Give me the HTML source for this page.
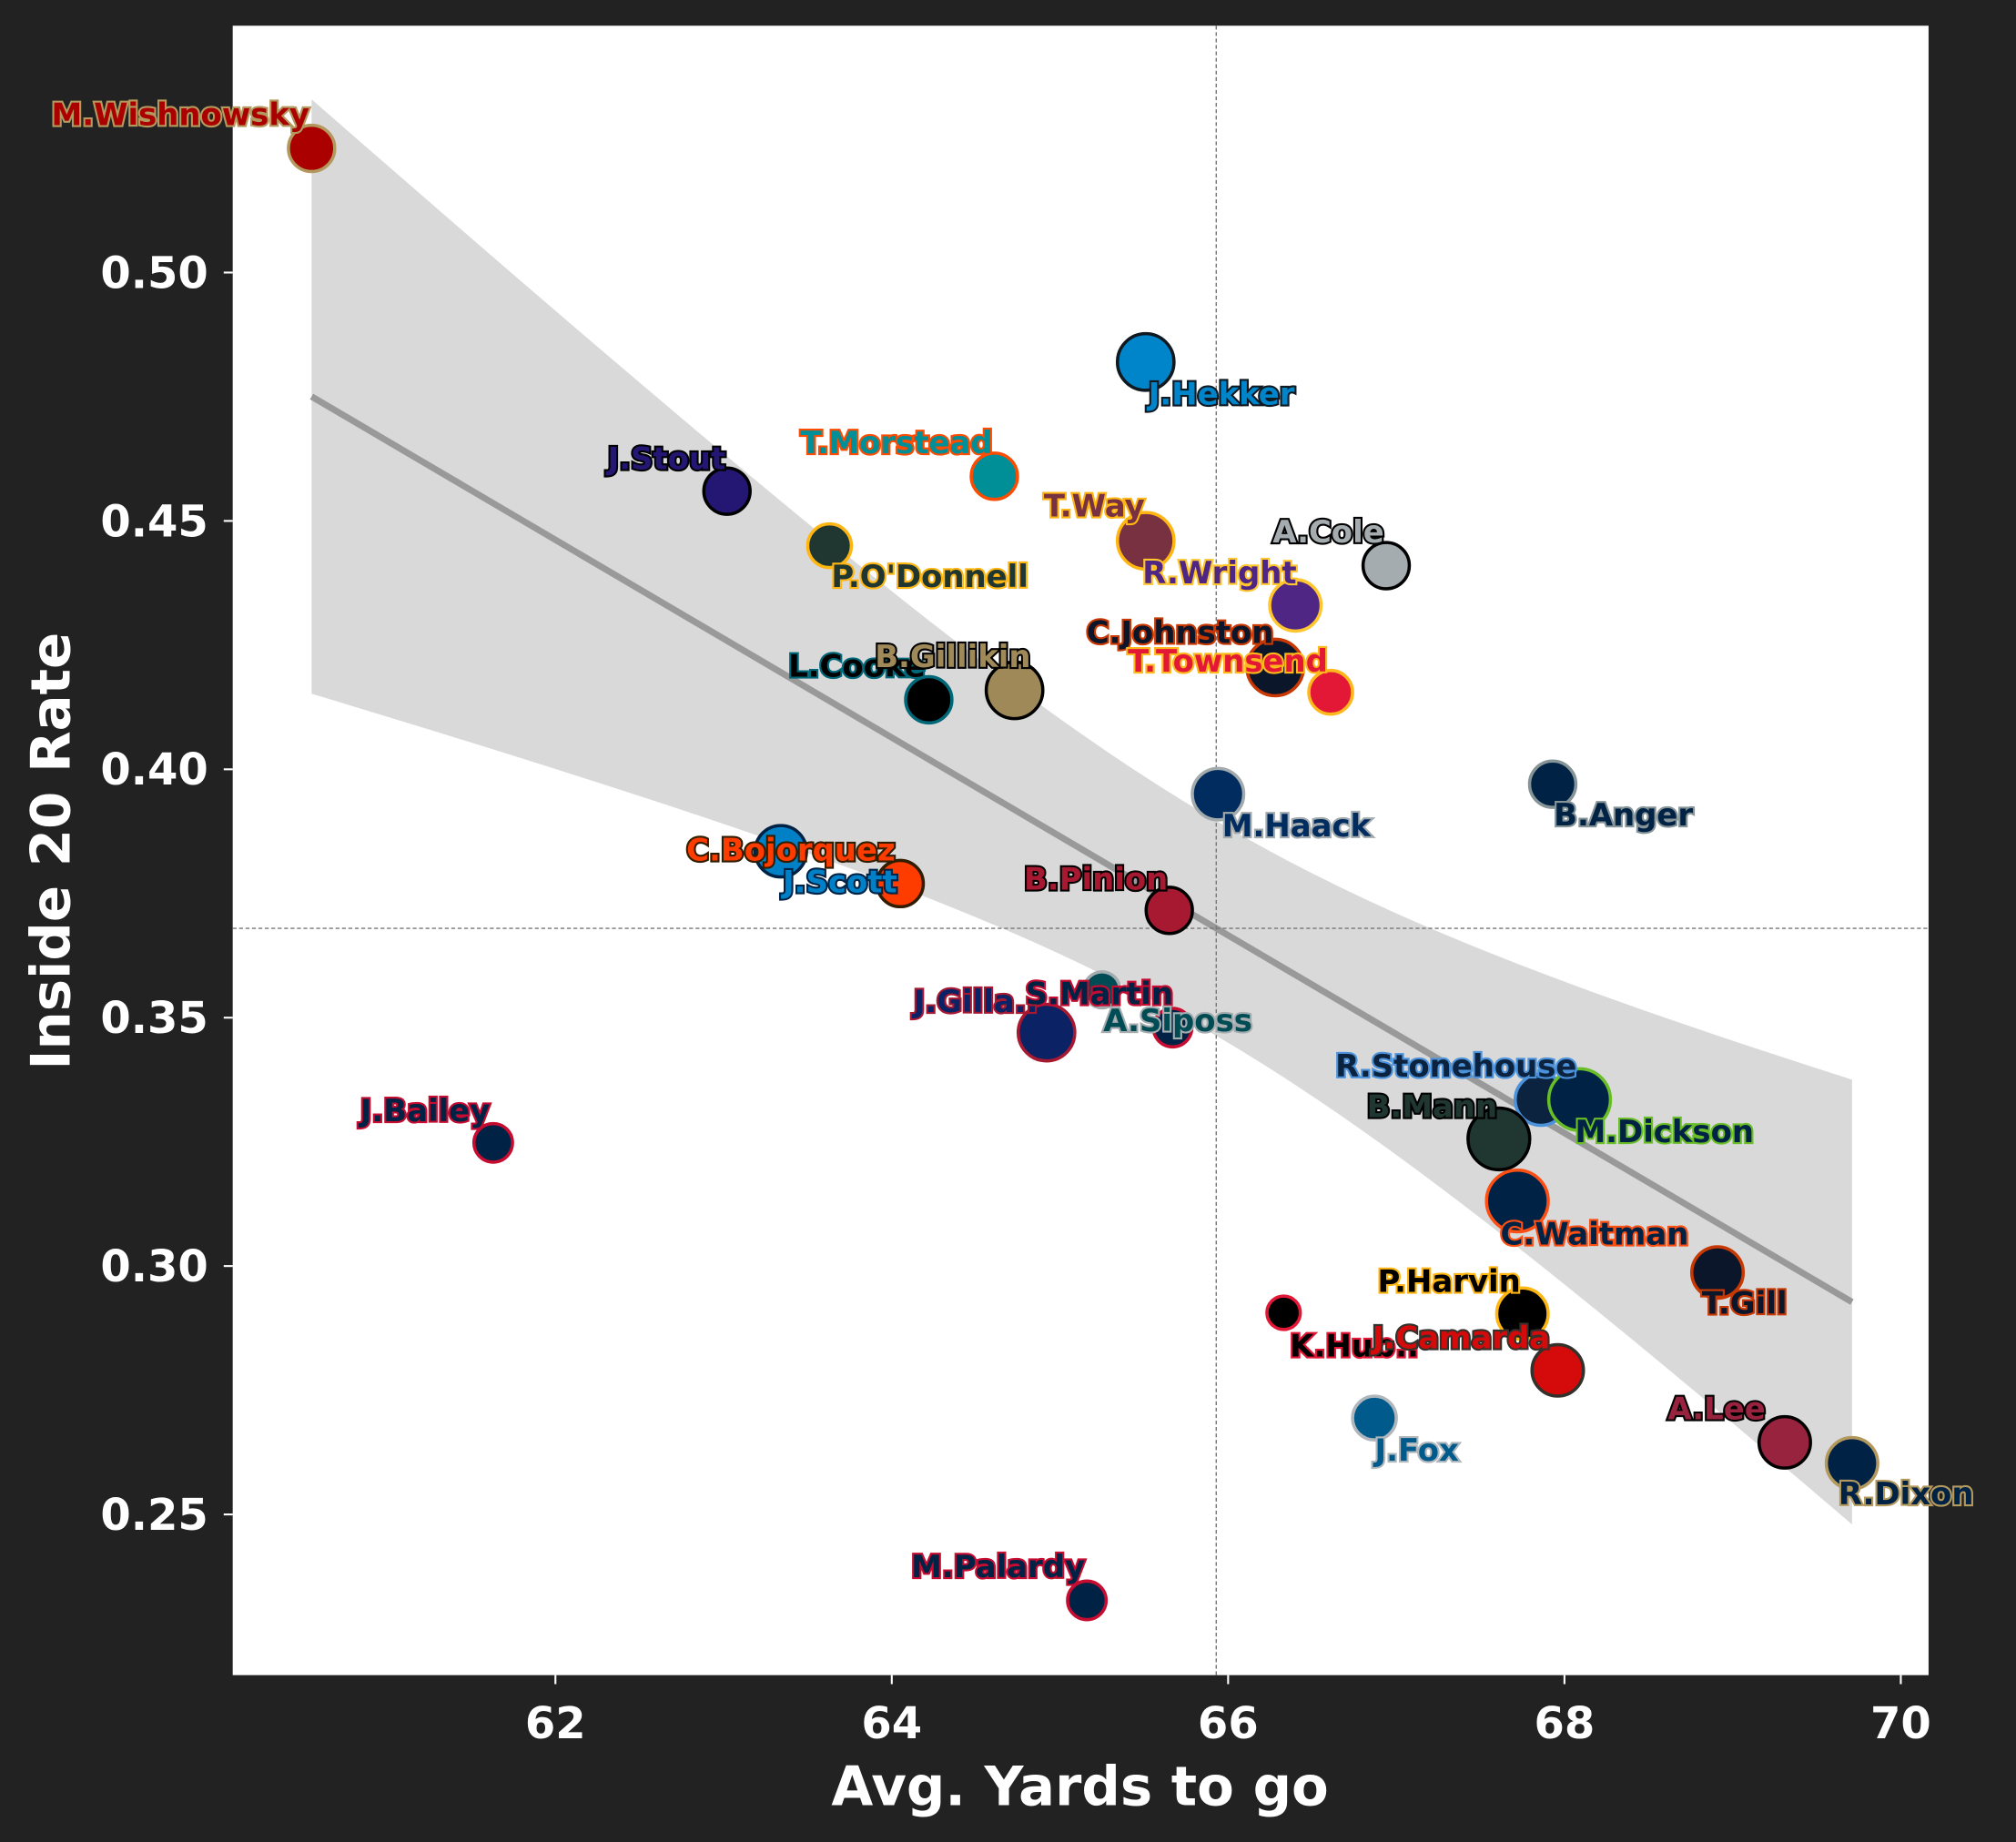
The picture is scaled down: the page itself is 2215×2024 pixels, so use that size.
<!DOCTYPE html>
<html><head><meta charset="utf-8">
<style>
html,body{margin:0;padding:0;background:#222222;}
svg{display:block;}
text{font-family:"DejaVu Sans","Liberation Sans",sans-serif;font-weight:bold;}
</style></head>
<body>
<svg id="chart" width="2215" height="2024" viewBox="0 0 1568 1432.8" preserveAspectRatio="none" xmlns="http://www.w3.org/2000/svg">
<rect x="0" y="0" width="1568" height="1433" fill="#222222"/>
<rect x="181" y="20" width="1319" height="1283" fill="#ffffff"/>
<g id="band"></g>
<g id="grid"></g>
<g id="axes"></g>
<g id="points"></g>
<g id="labels"></g>
<text x="840" y="1404" fill="#ffffff" font-size="42" text-anchor="middle">Avg. Yards to go</text>
<text x="54" y="662" fill="#ffffff" font-size="42" text-anchor="middle" transform="rotate(-90 54 662)">Inside 20 Rate</text>
</svg>
<script>
const names=["M.Wishnowsky","J.Stout","T.Morstead","P.O'Donnell","J.Hekker","T.Way","A.Cole","R.Wright","C.Johnston","T.Townsend","L.Cooke","B.Gillikin","M.Haack","B.Anger","J.Scott","C.Bojorquez","B.Pinion","S.Martin","A.Siposs","J.Gilla..","J.Bailey","R.Stonehouse","M.Dickson","B.Mann","C.Waitman","T.Gill","P.Harvin","K.Hub..","J.Camarda","J.Fox","A.Lee","R.Dixon","M.Palardy"];
const yardsToGo=[60.55,63.02,64.61,63.63,65.51,65.51,66.94,66.40,66.28,66.61,64.22,64.73,65.94,67.93,63.34,64.05,65.65,65.67,65.25,64.92,61.63,67.86,68.09,67.61,67.72,68.91,67.75,66.33,67.96,66.87,69.31,69.71,65.16];
const inside20Rate=[0.525,0.456,0.459,0.445,0.482,0.446,0.441,0.433,0.4205,0.4155,0.414,0.4159,0.395,0.397,0.3835,0.377,0.3716,0.348,0.3556,0.347,0.3248,0.3335,0.3335,0.3256,0.3131,0.2987,0.2904,0.2906,0.279,0.2694,0.2645,0.2603,0.2327];
const xTicks=[62,64,66,68,70];
const yTicks=[0.25,0.30,0.35,0.40,0.45,0.50];
// styling (not data)
const fills=["#aa0000","#241773","#008e97","#203731","#0085ca","#773141","#a5acaf","#4f2683","#0b162a","#e31837","#000000","#9f8958","#002c5f","#002244","#0080c6","#ff3c00","#a71930","#002244","#004c54","#0b2265","#002244","#0c2340","#002244","#203731","#002244","#0b162a","#000000","#000000","#d50a0a","#005a8b","#97233f","#002244","#002244"];
const edges=["#b3995d","#000000","#fc4c02","#ffb612","#101820","#ffb612","#000000","#ffc62f","#c83803","#ffb81c","#006778","#000000","#a2aaad","#869397","#002244","#311d00","#000000","#c60c30","#a5acaf","#a71930","#c60c30","#4b92db","#69be28","#000000","#fb4f14","#c83803","#ffb612","#e31837","#34302b","#b0b7bc","#000000","#b3995d","#c60c30"];
const radii=[18,18,18,17,22,22,18,20,22,17,18,22,20,18,20,18,18,15,14,22,15,20,24,24,24,20,20,13,20,17,20,20,15];
const ldx=[-102,-47,-76,78,59,-40,-45,-59,-74,-80,-56,-48,61,55,46,-85,-57,-57,59,-55,-53,-66,66,-52,60,21,-57,55,-75,33,-53,42,-69];
const ldy=[-26,-25,-26,24,25,-27,-26,-25,-27,-24,-26,-26,25,24,24,-26,-24,-26,24,-24,-25,-26,25,-25,26,24,-25,26,-25,25,-26,24,-26];

const NS="http://www.w3.org/2000/svg";
const X=v=>432+(v-62)*130.8;
const Y=v=>212-(v-0.50)*3864;
function mk(tag,attrs,parent){const e=document.createElementNS(NS,tag);for(const k in attrs)e.setAttribute(k,attrs[k]);document.getElementById(parent).appendChild(e);return e;}

// regression
const n=yardsToGo.length;
const xm=yardsToGo.reduce((a,b)=>a+b)/n, ym=inside20Rate.reduce((a,b)=>a+b)/n;
let sxx=0,sxy=0;for(let i=0;i<n;i++){sxx+=(yardsToGo[i]-xm)**2;sxy+=(yardsToGo[i]-xm)*(inside20Rate[i]-ym);}
const slope=sxy/sxx, icpt=ym-slope*xm;
let sse=0;for(let i=0;i<n;i++){sse+=(inside20Rate[i]-(icpt+slope*yardsToGo[i]))**2;}
const s=Math.sqrt(sse/(n-2)), t=2.04;
const xmin=Math.min(...yardsToGo), xmax=Math.max(...yardsToGo);
let up=[],lo=[];
for(let k=0;k<=60;k++){const xv=xmin+(xmax-xmin)*k/60;const yv=icpt+slope*xv;const h=t*s*Math.sqrt(1/n+(xv-xm)**2/sxx);up.push(X(xv)+","+Y(yv+h));lo.unshift(X(xv)+","+Y(yv-h));}
let band=mk('polygon',{points:up.concat(lo).join(" "),fill:"#d9d9d9"},'band');


let rl=mk('line',{x1:X(xmin),y1:Y(icpt+slope*xmin),x2:X(xmax),y2:Y(icpt+slope*xmax),stroke:"#999999","stroke-width":5},'band');



// mean lines
let vl=mk('line',{x1:X(xm),y1:20,x2:X(xm),y2:1303,stroke:"#777","stroke-width":1,"stroke-dasharray":"3,2"},'grid');


let hl=mk('line',{x1:181,y1:Y(ym),x2:1500,y2:Y(ym),stroke:"#777","stroke-width":1,"stroke-dasharray":"3,2"},'grid');



// ticks
xTicks.forEach(v=>{
  let tk=mk('line',{x1:X(v),y1:1303,x2:X(v),y2:1310,stroke:"#fff","stroke-width":1.5},'axes');
  
  
  let tl=mk('text',{x:X(v),y:1352,fill:"#fff","font-size":34,"text-anchor":"middle"},'axes');tl.textContent=v;
  
  
});
yTicks.forEach(v=>{
  let tk=mk('line',{x1:174,y1:Y(v),x2:181,y2:Y(v),stroke:"#fff","stroke-width":1.5},'axes');
  
  
  let tl=mk('text',{x:162,y:Y(v)+12,fill:"#fff","font-size":34,"text-anchor":"end"},'axes');tl.textContent=v.toFixed(2);
  
  
});

// points and labels
for(let i=0;i<n;i++){
  const cx=X(yardsToGo[i]), cy=Y(inside20Rate[i]);
  let c=mk('circle',{cx:cx,cy:cy,r:radii[i],fill:fills[i],stroke:edges[i],"stroke-width":2.5},'points');
  
  
  let l=mk('text',{x:cx+ldx[i],y:cy+ldy[i]+8,fill:fills[i],stroke:edges[i],"stroke-width":3,"paint-order":"stroke","font-size":24,"text-anchor":"middle"},'labels');
  l.textContent=names[i];
  
  
}
</script>
</body></html>
